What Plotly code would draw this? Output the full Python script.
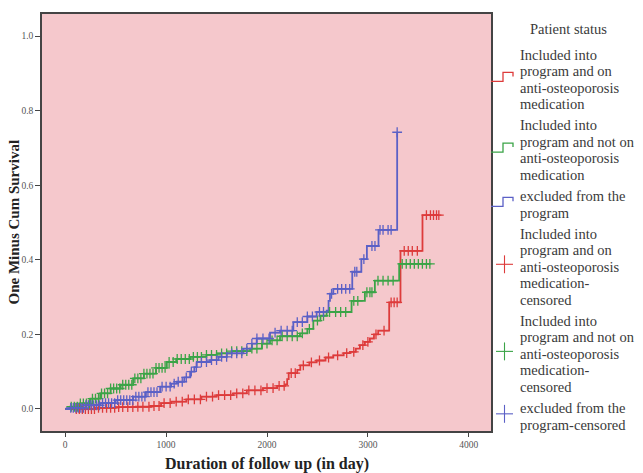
import numpy as np
import plotly.graph_objects as go

# ---------------- data ----------------
legend_title = "Patient status"
groups = [
    ["Included into", "program and on", "anti-osteoporosis", "medication"],
    ["Included into", "program and not on", "anti-osteoporosis", "medication"],
    ["excluded from the", "program"],
]
censored_groups = [
    ["Included into", "program and on", "anti-osteoporosis", "medication-", "censored"],
    ["Included into", "program and not on", "anti-osteoporosis", "medication-", "censored"],
    ["excluded from the", "program-censored"],
]

red_t = [0, 150, 300, 500, 700, 850, 950, 1050, 1200, 1350, 1500, 1667, 1800, 1960, 2100, 2180,
         2200, 2215, 2300, 2330, 2420, 2492, 2580, 2657, 2760, 2822, 2880, 2921, 2970, 3020, 3060,
         3102, 3211, 3323, 3541]
red_v = [0.0, 0.0, 0.003, 0.005, 0.006, 0.008, 0.016, 0.02, 0.026, 0.033, 0.037, 0.042, 0.05, 0.056,
         0.062, 0.066, 0.08, 0.096, 0.105, 0.117, 0.125, 0.13, 0.138, 0.144, 0.15, 0.153, 0.162,
         0.171, 0.18, 0.189, 0.2, 0.21, 0.286, 0.424, 0.52]
red_c = [110, 140, 170, 200, 230, 260, 290, 330, 370, 410, 450, 490, 530, 570, 620, 670, 720, 770,
         830, 880, 930, 980, 1040, 1100, 1160, 1220, 1280, 1340, 1400, 1460, 1520, 1580, 1640, 1700,
         1760, 1820, 1880, 1940, 2000, 2060, 2120, 2170, 2240, 2280, 2360, 2440, 2520, 2610, 2700,
         2790, 2860, 2950, 3000, 3080, 3160, 3230, 3260, 3290, 3360, 3400, 3440, 3490, 3580, 3620,
         3650, 3680, 3703]

green_t = [0, 50, 150, 250, 347, 450, 550, 673, 780, 900, 1007, 1100, 1238, 1400, 1502, 1650, 1832,
           1950, 2030, 2129, 2327, 2400, 2459, 2530, 2591, 2838, 2970, 3069, 3310]
green_v = [0.0, 0.006, 0.015, 0.028, 0.042, 0.055, 0.065, 0.082, 0.095, 0.11, 0.126, 0.134, 0.14,
           0.145, 0.149, 0.155, 0.162, 0.175, 0.184, 0.195, 0.203, 0.215, 0.237, 0.25, 0.26, 0.29,
           0.313, 0.344, 0.389]
green_c = [60, 90, 120, 150, 180, 210, 240, 270, 300, 330, 360, 390, 420, 450, 480, 510, 540, 570,
           600, 630, 660, 690, 720, 750, 780, 810, 840, 870, 900, 930, 960, 990, 1030, 1070, 1110,
           1150, 1190, 1230, 1270, 1310, 1350, 1400, 1450, 1500, 1550, 1600, 1650, 1700, 1750, 1800,
           1850, 1900, 1950, 2000, 2050, 2100, 2150, 2200, 2250, 2300, 2350, 2420, 2500, 2560, 2620,
           2680, 2730, 2780, 2860, 2900, 2990, 3020, 3040, 3100, 3150, 3200, 3250, 3340, 3380, 3420,
           3460, 3500, 3540, 3580, 3614]

blue_t = [0, 50, 200, 347, 500, 673, 800, 941, 1050, 1106, 1180, 1238, 1280, 1304, 1436, 1520, 1601,
          1766, 1850, 1898, 2030, 2129, 2261, 2400, 2492, 2591, 2610, 2624, 2657, 2845, 2935, 2990,
          3105, 3290]
blue_v = [0.0, 0.003, 0.01, 0.016, 0.024, 0.033, 0.045, 0.06, 0.068, 0.073, 0.085, 0.1, 0.112, 0.126,
          0.131, 0.14, 0.149, 0.162, 0.175, 0.189, 0.205, 0.21, 0.233, 0.248, 0.26, 0.264, 0.29, 0.309,
          0.322, 0.368, 0.402, 0.437, 0.48, 0.742]
blue_c = [55, 80, 105, 130, 155, 180, 205, 230, 255, 280, 310, 340, 370, 400, 430, 460, 490, 520,
          550, 580, 610, 640, 670, 700, 730, 760, 790, 820, 850, 880, 910, 960, 1000, 1040, 1080,
          1120, 1160, 1200, 1250, 1300, 1350, 1400, 1450, 1500, 1550, 1600, 1650, 1700, 1750, 1800,
          1850, 1900, 1960, 2020, 2080, 2140, 2200, 2250, 2300, 2350, 2400, 2450, 2520, 2560, 2640,
          2700, 2740, 2780, 2820, 2870, 2890, 2960, 3040, 3070, 3120, 3150, 3200, 3230, 3290]

x_ticks = [0, 1000, 2000, 3000, 4000]
y_ticks = [0.0, 0.2, 0.4, 0.6, 0.8, 1.0]
y_tick_text = ["0.0", "0.2", "0.4", "0.6", "0.8", "1.0"]
x_title = "Duration of follow up (in day)"
y_title = "One Minus Cum Survival"

# ---------------- style ----------------
colors = ["#dd3b3b", "#3ba447", "#5b60c6"]
serif = "Liberation Serif"
W, H = 643, 473
ML, MR, MT, MB = 42, 152, 12, 42
PW, PH = W - ML - MR, H - MT - MB

def px(xp):
    return (xp - ML) / PW

def py(yp):
    return (H - MB - yp) / PH

series = [(red_t, red_v, red_c), (green_t, green_v, green_c), (blue_t, blue_v, blue_c)]

def step_value(t, v, c):
    t = np.asarray(t)
    v = np.asarray(v)
    idx = np.searchsorted(t, np.asarray(c), side="right") - 1
    return v[idx]

fig = go.Figure()

for (t, v, c), col in zip(series, colors):
    xs = list(t) + [max(c)]
    ys = list(v) + [float(step_value(t, v, [max(c)])[0])]
    fig.add_trace(go.Scatter(x=xs, y=ys, mode="lines", line=dict(shape="hv", color=col, width=1.8),
                             hoverinfo="skip", showlegend=False))
for (t, v, c), col in zip(series, colors):
    fig.add_trace(go.Scatter(x=c, y=step_value(t, v, c), mode="markers",
                             marker=dict(symbol="cross-thin", size=7, line=dict(color=col, width=1.3)),
                             hoverinfo="skip", showlegend=False))

# ---------------- manual legend ----------------
annotations = []
shapes = []
text_color = "#3a3a3a"
leg_font = 14.5
annotations.append(dict(text=legend_title, x=px(568), y=py(27.5), xref="paper", yref="paper",
                        xanchor="center", yanchor="middle", showarrow=False,
                        font=dict(family=serif, size=leg_font, color=text_color)))
line_step = 16.5
entry_gap = 21.5
ycur = 53
entries = [(g, colors[i], "line") for i, g in enumerate(groups)] + \
          [(g, colors[i], "cross") for i, g in enumerate(censored_groups)]
for lines, col, kind in entries:
    ys = [ycur + k * line_step for k in range(len(lines))]
    for txt, yl in zip(lines, ys):
        annotations.append(dict(text=txt, x=px(517.5), y=py(yl), xref="paper", yref="paper",
                                xanchor="left", yanchor="middle", showarrow=False,
                                font=dict(family=serif, size=leg_font, color=text_color)))
    yc = (ys[0] + ys[-1]) / 2 - 2.5
    if kind == "line":
        lo, hi = yc + 4.5, yc - 4.5
        path = (f"M {px(491)},{py(lo)} L {px(503)},{py(lo)} L {px(503)},{py(hi)} "
                f"L {px(513)},{py(hi)} L {px(513)},{py(hi + 4)}")
        shapes.append(dict(type="path", path=path, xref="paper", yref="paper",
                           line=dict(color=col, width=1.3)))
    else:
        shapes.append(dict(type="line", xref="paper", yref="paper", x0=px(496), x1=px(513),
                           y0=py(yc), y1=py(yc), line=dict(color=col, width=1.1)))
        shapes.append(dict(type="line", xref="paper", yref="paper", x0=px(504.5), x1=px(504.5),
                           y0=py(yc - 9), y1=py(yc + 9), line=dict(color=col, width=1.1)))
    ycur = ys[-1] + entry_gap

# axis titles
annotations.append(dict(text=f"<b>{y_title}</b>", x=px(13), y=py(221.5), xref="paper", yref="paper",
                        xanchor="center", yanchor="middle", textangle=-90, showarrow=False,
                        font=dict(family=serif, size=15, color="#222")))
annotations.append(dict(text=f"<b>{x_title}</b>", x=px(266.5), y=py(464), xref="paper", yref="paper",
                        xanchor="center", yanchor="middle", showarrow=False,
                        font=dict(family=serif, size=16, color="#222")))

fig.update_layout(
    width=W, height=H,
    margin=dict(l=ML, r=MR, t=MT, b=MB),
    paper_bgcolor="white",
    plot_bgcolor="#f5c8cc",
    font=dict(family=serif, color="#333333"),
    showlegend=False,
    annotations=annotations,
    shapes=shapes,
    xaxis=dict(
        range=[-230, 4220], tickvals=x_ticks, ticktext=[str(v) for v in x_ticks],
        showgrid=False, zeroline=False, showline=True, linecolor="#444", linewidth=1.6, mirror=True,
        ticks="outside", ticklen=4, tickcolor="#444",
        tickfont=dict(size=9.5, color="#555", family=serif),
    ),
    yaxis=dict(
        range=[-0.059, 1.059], tickvals=y_ticks, ticktext=y_tick_text,
        showgrid=False, zeroline=False, showline=True, linecolor="#444", linewidth=1.6, mirror=True,
        ticks="outside", ticklen=5, tickcolor="#444",
        tickfont=dict(size=9.5, color="#555", family=serif),
    ),
)

fig.write_html("out.html", config={"displayModeBar": False},
               post_script="document.body.style.margin='0px';document.body.style.overflow='hidden';")
